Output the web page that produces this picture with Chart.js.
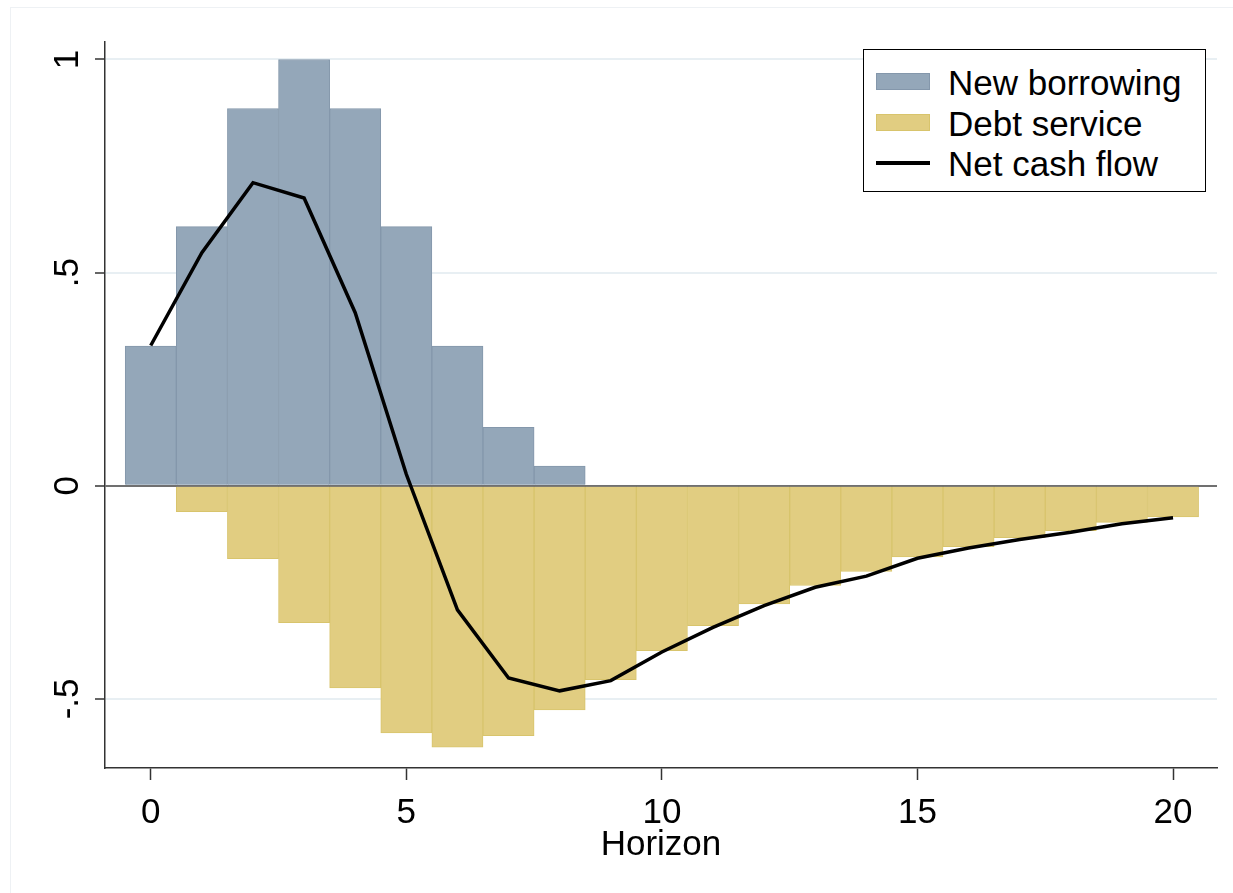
<!DOCTYPE html>
<html>
<head>
<meta charset="utf-8">
<script src="https://cdn.jsdelivr.net/npm/chart.js@4"></script>
<style>
  body { margin: 0; background: #fff; }
  #wrap { position: relative; width: 1233px; height: 893px; overflow: hidden; }
  #frame { position: absolute; left: 10px; top: 7px; width: 1300px; height: 950px; border: 1px solid #eef1f4; }
  #legend { position: absolute; left: 863px; top: 49px; width: 341px; height: 141px; border: 1.5px solid #000;
            background: #fff; font-family: 'Liberation Sans', Arial, sans-serif; font-size: 35px; color: #000; }
  .row { position: absolute; left: 0; height: 40px; line-height: 40px; white-space: nowrap; }
  .sw { position: absolute; left: 12px; width: 54px; box-sizing: border-box; }
  .txt { position: absolute; left: 84px; top: 0; }
</style>
</head>
<body>
<div id="wrap">
  <div id="frame"></div>
  <canvas id="chart" width="1233" height="893"></canvas>
  <div id="legend"></div>
</div>
<script>
Chart.defaults.font.family = "'Liberation Sans', Arial, sans-serif";
Chart.defaults.color = '#000';

var horizons = [0, 1, 2, 3, 4, 5, 6, 7, 8, 9, 10, 11, 12, 13, 14, 15, 16, 17, 18, 19, 20];
var newBorrowing = [0.328, 0.608, 0.885, 1.0, 0.885, 0.608, 0.328, 0.137, 0.046, 0, 0, 0, 0, 0, 0, 0, 0, 0, 0, 0, 0];
var debtService = [0, -0.061, -0.171, -0.321, -0.474, -0.580, -0.613, -0.586, -0.526, -0.455, -0.387, -0.328, -0.277, -0.234, -0.201, -0.167, -0.143, -0.122, -0.105, -0.086, -0.073];
var netCashFlow = [0.329, 0.547, 0.711, 0.675, 0.406, 0.027, -0.291, -0.451, -0.481, -0.457, -0.390, -0.332, -0.281, -0.238, -0.212, -0.170, -0.146, -0.126, -0.109, -0.089, -0.075];

var xTicks = [0, 5, 10, 15, 20];
var yTicks = [-0.5, 0, 0.5, 1];
var yTickLabels = ['-.5', '0', '.5', '1'];

var seriesNames = ['New borrowing', 'Debt service', 'Net cash flow'];
var blueFill = '#94a7b9', blueEdge = '#8497ab';
var goldFill = '#e1cd81', goldEdge = '#d8c46c';

function pts(vals) {
    return horizons.map(function (h, i) { return { x: h, y: vals[i] }; });
}

var ctx = document.getElementById('chart');
var myChart = new Chart(ctx, {
    type: 'bar',
    data: {
        datasets: [
            {
                type: 'line',
                label: seriesNames[2],
                data: pts(netCashFlow),
                borderColor: '#000',
                borderWidth: 3.5,
                pointRadius: 0,
                tension: 0,
                order: 0
            },
            {
                label: seriesNames[0],
                data: pts(newBorrowing),
                backgroundColor: blueFill,
                borderColor: blueEdge,
                borderWidth: 1,
                barPercentage: 1,
                categoryPercentage: 1,
                grouped: false,
                order: 1
            },
            {
                label: seriesNames[1],
                data: pts(debtService),
                backgroundColor: goldFill,
                borderColor: goldEdge,
                borderWidth: 1,
                barPercentage: 1,
                categoryPercentage: 1,
                grouped: false,
                order: 2
            }
        ]
    },
    options: {
        responsive: false,
        animation: false,
        layout: { padding: { left: 0, right: 16, top: 42, bottom: 0 } },
        plugins: {
            legend: { display: false },
            tooltip: { enabled: false }
        },
        scales: {
            x: {
                type: 'linear',
                min: -0.895,
                max: 20.86,
                offset: false,
                afterBuildTicks: function (s) { s.ticks = xTicks.map(function (v) { return { value: v }; }); },
                afterFit: function (s) { s.height = 125; },
                ticks: {
                    font: { size: 35 },
                    color: '#000',
                    padding: 12,
                    autoSkip: false,
                    maxRotation: 0
                },
                grid: {
                    offset: false,
                    drawOnChartArea: false,
                    drawTicks: true,
                    tickLength: 12,
                    tickColor: '#333',
                    tickWidth: 1.5
                },
                border: { color: '#333', width: 1.5 },
                title: {
                    display: true,
                    text: 'Horizon',
                    font: { size: 35 },
                    color: '#000',
                    padding: { top: 0, bottom: 27 }
                }
            },
            y: {
                min: -0.662,
                max: 1.041,
                afterBuildTicks: function (s) { s.ticks = yTicks.map(function (v) { return { value: v }; }); },
                afterFit: function (s) { s.width = 105; },
                ticks: {
                    font: { size: 35 },
                    color: '#000',
                    minRotation: 90,
                    maxRotation: 90,
                    crossAlign: 'center',
                    padding: 6,
                    autoSkip: false,
                    callback: function (v) { return yTickLabels[yTicks.indexOf(v)]; }
                },
                grid: {
                    color: function (c) { return c.tick && c.tick.value === 0 ? '#707070' : '#e8eff3'; },
                    lineWidth: 2,
                    tickLength: 10,
                    tickColor: '#333',
                    tickWidth: 1.5
                },
                border: { color: '#333', width: 1.5 }
            }
        }
    }
});

// legend box drawn inside the plot, as in the original
var legendRows = [
    { name: seriesNames[0], kind: 'box', fill: blueFill, edge: blueEdge },
    { name: seriesNames[1], kind: 'box', fill: goldFill, edge: goldEdge },
    { name: seriesNames[2], kind: 'line', fill: '#000' }
];
var lg = document.getElementById('legend');
legendRows.forEach(function (r, i) {
    var row = document.createElement('div');
    row.className = 'row';
    row.style.top = (13 + i * 40.5) + 'px';
    var sw = document.createElement('div');
    sw.className = 'sw';
    if (r.kind === 'box') {
        sw.style.top = '10px';
        sw.style.height = '17px';
        sw.style.background = r.fill;
        sw.style.border = '1px solid ' + r.edge;
    } else {
        sw.style.top = '17px';
        sw.style.height = '3.5px';
        sw.style.background = r.fill;
    }
    var t = document.createElement('span');
    t.className = 'txt';
    t.textContent = r.name;
    row.appendChild(sw);
    row.appendChild(t);
    lg.appendChild(row);
});
</script>
</body>
</html>
